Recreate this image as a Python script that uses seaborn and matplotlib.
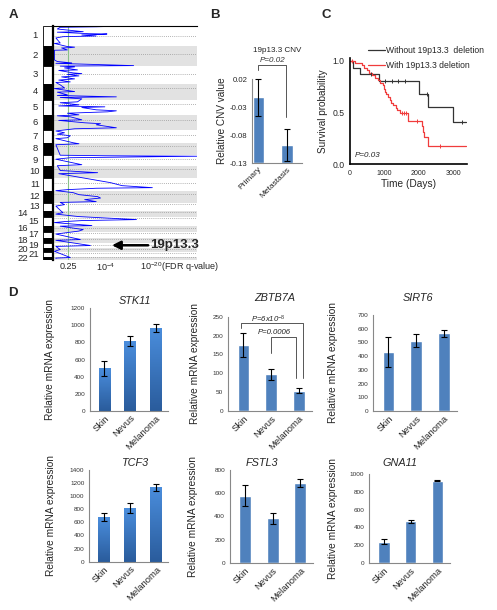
import numpy as np
import matplotlib
matplotlib.use("Agg")
import matplotlib.pyplot as plt
import seaborn as sns
from matplotlib.lines import Line2D
from matplotlib.colors import LinearSegmentedColormap

# --- style ---
sns.set_style("white")
plt.rcParams['font.family'] = ['Liberation Sans', 'DejaVu Sans']
plt.rcParams['mathtext.fontset'] = 'custom'
plt.rcParams['mathtext.rm'] = 'Liberation Sans'
plt.rcParams['mathtext.it'] = 'Liberation Sans:italic'

# --- data: panel A (GISTIC-like deletion profile) ---
chrom_names = [str(i) for i in range(1, 23)]
chrom_sizes = [20, 20, 18, 16, 15, 15, 13, 12, 11, 12, 13, 12, 8, 6, 9, 6, 6, 5, 5, 4, 5, 3]
chrom_cen = [0.5, 0.39, 0.46, 0.26, 0.27, 0.35, 0.38, 0.31, 0.35, 0.30, 0.40, 0.27,
             0.15, 0.16, 0.19, 0.40, 0.30, 0.22, 0.41, 0.45, 0.27, 0.28]
cnv_pos = [0, 0.3, 0.8, 1.3, 3, 5.7, 6.2, 7.7, 8, 8.5, 9, 10, 10.7, 12, 17, 17.5,
           20.6, 21.2, 21.7, 22, 24, 24.3, 34, 35.6, 37, 37.4, 39.7, 40.2, 41, 42,
           44, 44.5, 47, 47.7, 48.5, 50, 51, 53, 54.2, 56, 56.6, 59, 62, 62.7, 65.7,
           66.3, 69, 69.6, 71, 71.6, 73, 76, 76.9, 79, 80.1, 81, 81.7, 84, 85, 86,
           87.4, 89, 90, 91, 94, 94.6, 97, 97.9, 99, 100.3, 102, 103, 105.2, 107,
           108.4, 110, 112, 112.9, 117, 118, 119, 129.5, 130, 130.5, 131, 132, 133.5,
           139, 140, 144.8, 147, 148, 157, 160, 162, 162.6, 164, 165, 167, 169, 171,
           172.4, 174, 176, 176.8, 179, 180.5, 186, 187, 188.5, 191, 192.6, 194, 195,
           196, 197, 200, 200.6, 204, 205.5, 207, 208.5, 214, 214.8, 220, 220.9, 224,
           225.8, 232, 232.6, 233]
cnv_score = [0.02, 0.42, 0.30, 0.05, 0.03, 0.21, 0.03, 0.25, 0.375, 0.33, 0.20, 0.30,
             0.07, 0.02, 0.05, 0.01, 0.10, 0.15, 0.12, 0.06, 0.10, 0.01, 0.01, 0.03,
             0.13, 0.02, 0.56, 0.05, 0.15, 0.08, 0.17, 0.04, 0.14, 0.20, 0.10, 0.18,
             0.06, 0.15, 0.04, 0.12, 0.02, 0.05, 0.08, 0.01, 0.15, 0.03, 0.10, 0.03,
             0.44, 0.05, 0.20, 0.17, 0.05, 0.18, 0.04, 0.36, 0.20, 0.30, 0.44, 0.38,
             0.10, 0.18, 0.03, 0.12, 0.20, 0.04, 0.22, 0.33, 0.30, 0.36, 0.44, 0.15,
             0.02, 0.08, 0.03, 0.12, 0.10, 0.02, 0.14, 0.18, 0.02, 0.05, 0.36, 1.0,
             0.69, 0.12, 0.02, 0.20, 0.03, 0.05, 0.31, 0.04, 0.40, 0.48, 0.69, 0.30,
             0.10, 0.02, 0.14, 0.18, 0.31, 0.33, 0.22, 0.30, 0.05, 0.08, 0.02, 0.06,
             0.07, 0.02, 0.18, 0.40, 0.58, 0.20, 0.08, 0.01, 0.27, 0.05, 0.21, 0.18,
             0.10, 0.02, 0.19, 0.02, 0.26, 0.02, 0.05, 0.01, 0.12, 0.02, 0.02]
fdr_labels = ['0.25', '10$^{-4}$', '10$^{-20}$(FDR q-value)']

# --- data: panel B ---
cnv_groups = ['Primary', 'Metastasis']
cnv_mean = [-0.013, -0.098]
cnv_err = [0.033, 0.028]

# --- data: panel C (Kaplan-Meier) ---
wo_time = [0, 97, 290, 852, 2013, 2275, 3000, 3369]
wo_surv = [1.0, 0.932, 0.871, 0.803, 0.678, 0.549, 0.407, 0.407]
wo_censor = [600, 1016, 1210, 1404, 1597, 2226, 3243]
del_time = [0, 140, 340, 400, 480, 560, 640, 720, 800, 880, 960, 1000, 1030, 1060,
            1100, 1150, 1200, 1260, 1330, 1380, 1450, 1690, 2080, 2120, 2150, 2275, 3369]
del_surv = [1.0, 0.98, 0.955, 0.93, 0.91, 0.885, 0.86, 0.835, 0.81, 0.785, 0.76, 0.73,
            0.70, 0.675, 0.65, 0.62, 0.595, 0.57, 0.545, 0.52, 0.49, 0.42, 0.37, 0.31,
            0.26, 0.17, 0.17]
del_censor = [50, 1500, 1560, 1620, 1940, 2610]

# --- data: panel D (expression) ---
tissues = ['Skin', 'Nevus', 'Melanoma']
stk11_mean = [495, 820, 970]
stk11_err = [88, 60, 42]
zbtb7a_mean = [175, 97, 54]
zbtb7a_err = [32, 15, 7]
sirt6_mean = [428, 513, 568]
sirt6_err = [110, 48, 25]
tcf3_mean = [680, 818, 1135]
tcf3_err = [58, 70, 52]
fstl3_mean = [578, 385, 687]
fstl3_err = [88, 45, 36]
gna11_mean = [240, 467, 925]
gna11_err = [32, 12, 6]

W, H = 497, 610
fig = plt.figure(figsize=(W / 100, H / 100), dpi=100)


def add_ax(left, top, right, bottom):
    a = fig.add_axes([left / W, 1 - bottom / H, (right - left) / W, (bottom - top) / H])
    a.patch.set_alpha(0)
    return a


def fig_text(x, y, s, **kw):
    fig.text(x / W, 1 - y / H, s, **kw)


# ================= Panel A =================
starts = np.concatenate([[0], np.cumsum(chrom_sizes)[:-1]])
total = float(sum(chrom_sizes))
A_top, A_bot = 26, 259.5

ax_id = add_ax(43, A_top, 52, A_bot)
for i, (s0, sz) in enumerate(zip(starts, chrom_sizes)):
    ax_id.barh(s0 + sz / 2, 1, height=sz, left=0, color='black' if i % 2 else 'white',
               edgecolor='black', lw=0.6)
ax_id.set_ylim(total, 0)
ax_id.set_xlim(0, 1)
ax_id.axis('off')

label_x = [35] * 13 + [23, 34, 23, 34, 23, 34, 23, 34, 23]
for name, s0, sz, lx in zip(chrom_names, starts, chrom_sizes, label_x):
    yy = A_top + (s0 + sz / 2) / total * (A_bot - A_top)
    fig_text(lx, yy, name, ha='center', va='center', fontsize=6.8)

axA = add_ax(53, A_top, 197, A_bot)
for i, (s0, sz, cf) in enumerate(zip(starts, chrom_sizes, chrom_cen)):
    if i % 2:
        axA.axhspan(s0, s0 + sz, color='#e2e2e2', lw=0)
    axA.axhline(s0 + cf * sz, color='#9a9a9a', ls=(0, (1, 1.5)), lw=0.6)
axA.axvline(0.104, color='#88c088', lw=0.8)
axA.plot(cnv_score, cnv_pos, color='#0000ff', lw=0.6)
axA.set_ylim(total, 0)
axA.set_xlim(0, 1)
axA.set_xticks([])
axA.set_yticks([])
for sp in ['left', 'top']:
    axA.spines[sp].set_color('black')
axA.spines['left'].set_linewidth(1.6)
axA.spines['top'].set_linewidth(0.8)
axA.spines['bottom'].set_visible(False)
axA.spines['right'].set_visible(False)

arrow_y = starts[18] + chrom_sizes[18] * 0.55
axA.annotate('', xy=(0.39, arrow_y), xytext=(0.68, arrow_y),
             arrowprops=dict(arrowstyle='-|>,head_length=0.5,head_width=0.25',
                             color='black', lw=1.8))
axA.text(0.675, arrow_y, '19p13.3', fontsize=9.5, fontweight='bold', ha='left',
         va='center', clip_on=False)

for xpos, lab, ha in zip([0.108, 0.365, 0.604], fdr_labels, ['center', 'center', 'left']):
    axA.text(xpos, -0.032, lab, transform=axA.transAxes, ha=ha, va='center',
             fontsize=6.5, clip_on=False)

# ================= Panel B =================
axB = add_ax(252.3, 79, 301.7, 163)
base = -0.13
axB.bar(range(len(cnv_groups)), np.array(cnv_mean) - base, bottom=base, width=0.41,
        color='#4f81bd')
axB.errorbar(range(len(cnv_groups)), cnv_mean, yerr=cnv_err, fmt='none', ecolor='black',
             elinewidth=0.8, capsize=2.5, capthick=0.8, clip_on=False)
axB.set_xlim(-0.215, 1.51)
axB.set_ylim(-0.13, 0.02)
axB.set_yticks([0.02, -0.03, -0.08, -0.13])
axB.set_yticklabels(['0.02', '-0.03', '-0.08', '-0.13'], fontsize=5.6)
axB.set_xticks(range(len(cnv_groups)))
axB.set_xticklabels(cnv_groups, rotation=45, ha='right', rotation_mode='anchor', fontsize=6)
axB.set_xticks([0.5, 1.5], minor=True)
axB.tick_params(axis='x', which='major', length=0, pad=2)
axB.tick_params(axis='x', which='minor', length=2, color='#888888')
axB.tick_params(axis='y', length=2, color='#888888', pad=1.5)
axB.set_ylabel('Relative CNV value', fontsize=7.2, labelpad=2)
for sp in ['top', 'right']:
    axB.spines[sp].set_visible(False)
for sp in ['left', 'bottom']:
    axB.spines[sp].set_color('#888888')
    axB.spines[sp].set_linewidth(0.8)
axB.plot([0, 0, 0.95, 0.95], [0.036, 0.045, 0.045, -0.047], color='#555555', lw=0.7,
         clip_on=False)
axB.text(0.5, 0.053, 'P=0.02', fontstyle='italic', fontsize=5.8, ha='center', va='center',
         color='#333333')
fig_text(277, 50, '19p13.3 CNV', fontsize=5.8, ha='center', va='center', color='#222222')

# ================= Panel C =================
axC = add_ax(350, 57.6, 467, 164)


def surv_at(t, times, surv):
    idx = np.searchsorted(times, t, side='right') - 1
    return np.array(surv)[idx]


col_wo, col_del = '#333333', '#f03c3c'
axC.step(wo_time, wo_surv, where='post', color=col_wo, lw=0.9)
axC.step(del_time, del_surv, where='post', color=col_del, lw=0.9)
axC.plot(wo_censor, surv_at(wo_censor, wo_time, wo_surv), ls='none', marker='|',
         ms=3.5, mew=0.7, color=col_wo)
axC.plot(del_censor, surv_at(del_censor, del_time, del_surv), ls='none', marker='|',
         ms=3.5, mew=0.7, color=col_del)
axC.set_xlim(0, 3400)
axC.set_ylim(0, 1.03)
axC.set_xticks([0, 1000, 2000, 3000])
axC.set_xticklabels(['0', '1000', '2000', '3000'], fontsize=5)
axC.set_yticks([0, 0.5, 1.0])
axC.set_yticklabels(['0.0', '0.5', '1.0'], fontsize=6.2)
axC.tick_params(length=2.5, width=0.9, color='black', pad=1.5)
axC.set_xlabel('Time (Days)', fontsize=7.3, labelpad=2)
axC.set_ylabel('Survival probability', fontsize=7.2, labelpad=3)
for sp in ['top', 'right']:
    axC.spines[sp].set_visible(False)
for sp in ['left', 'bottom']:
    axC.spines[sp].set_color('black')
    axC.spines[sp].set_linewidth(1.2)
axC.text(130, 0.085, 'P=0.03', fontstyle='italic', fontsize=5.8, ha='left', va='center')
axC.legend(handles=[Line2D([], [], color=col_wo, lw=0.9), Line2D([], [], color=col_del, lw=0.9)],
           labels=['Without 19p13.3  deletion', 'With 19p13.3 deletion'],
           loc='upper left', bbox_to_anchor=(368 / W, 1 - 46 / H),
           bbox_transform=fig.transFigure, frameon=False, fontsize=6.2, handlelength=2.0,
           handletextpad=0.1, labelspacing=0.75, borderaxespad=0, borderpad=0)

# ================= Panel D =================
flat_blue = '#4f81bd'


def shade_bars(ax, top_color, bottom_color):
    cmap = LinearSegmentedColormap.from_list('bar_grad', [bottom_color, top_color])
    grad = np.linspace(0, 1, 64).reshape(-1, 1)
    for bar in list(ax.patches):
        x0, y0 = bar.get_x(), bar.get_y()
        w, h = bar.get_width(), bar.get_height()
        im = ax.imshow(grad, extent=[x0, x0 + w, y0, y0 + h], origin='lower', cmap=cmap,
                       aspect='auto', zorder=bar.get_zorder() + 0.1)
        im.set_clip_path(bar)


panels = [
    # gene, mean, err, (left, top, right, bottom), ymax, step, title xy, ylabel x, gradient
    ('STK11', stk11_mean, stk11_err, (90, 308.3, 168, 410.7), 1200, 200, (135, 301), 55, True),
    ('ZBTB7A', zbtb7a_mean, zbtb7a_err, (228.3, 316.7, 311.7, 411), 250, 50, (275, 298), 200, False),
    ('SIRT6', sirt6_mean, sirt6_err, (373.3, 315, 456.7, 411), 700, 100, (418, 298), 338, False),
    ('TCF3', tcf3_mean, tcf3_err, (89.3, 469.8, 168.3, 561.7), 1400, 200, (135, 463), 56, True),
    ('FSTL3', fstl3_mean, fstl3_err, (230, 469.7, 313, 563.3), 800, 200, (262, 463), 198, False),
    ('GNA11', gna11_mean, gna11_err, (369.3, 474, 450, 563), 1000, 200, (400, 463), 338, False),
]

axes_D = {}
for gene, mean, err, box, ymax, step, txy, ylx, grad in panels:
    ax = add_ax(*box)
    sns.barplot(x=tissues, y=mean, ax=ax, color=flat_blue, saturation=1, width=0.43,
                errorbar=None)
    if grad:
        shade_bars(ax, '#4a8ddc', '#2a5c9c')
    ax.errorbar(range(3), mean, yerr=err, fmt='none', ecolor='black', elinewidth=0.8,
                capsize=2, capthick=0.8, zorder=3, clip_on=False)
    ax.set_xlim(-0.55, 2.47)
    ax.set_ylim(0, ymax)
    ax.set_yticks(np.arange(0, ymax + 1, step))
    ax.tick_params(axis='y', labelsize=4.6, length=2, color='#888888', pad=1.5,
                   labelcolor='#333333')
    ax.set_xticks(range(3))
    ax.set_xticklabels(tissues, rotation=45, ha='right', rotation_mode='anchor', fontsize=6.8)
    ax.set_xticks([-0.5, 0.5, 1.5, 2.47], minor=True)
    ax.tick_params(axis='x', which='major', length=0, pad=2)
    ax.tick_params(axis='x', which='minor', length=2, color='#888888')
    ax.set_xlabel('')
    ax.set_ylabel('Relative mRNA expression', fontsize=7.3)
    x0 = box[0]
    ax.yaxis.set_label_coords((ylx - x0) / (box[2] - x0), 0.5)
    for sp in ['top', 'right']:
        ax.spines[sp].set_visible(False)
    for sp in ['left', 'bottom']:
        ax.spines[sp].set_color('#888888')
        ax.spines[sp].set_linewidth(0.8)
    fig_text(txy[0], txy[1], gene, fontstyle='italic', fontsize=7.8, ha='center', va='center')
    axes_D[gene] = ax

# significance brackets on ZBTB7A
axZ = axes_D['ZBTB7A']
axZ.plot([-0.1, -0.1, 2.15, 2.15], [220, 232, 232, 87], color='#555555', lw=0.7, clip_on=False)
axZ.plot([1.0, 1.0, 1.9, 1.9], [154, 195, 195, 87], color='#555555', lw=0.7, clip_on=False)
axZ.text(0.89, 244, 'P=6x10$^{-8}$', fontstyle='italic', fontsize=5.6, ha='center',
         va='center', clip_on=False)
axZ.text(1.12, 207, 'P=0.0006', fontstyle='italic', fontsize=5.6, ha='center', va='center')

# panel letters
for lx, ly, letter in [(13, 15, 'A'), (215, 15, 'B'), (326, 15, 'C'), (13, 293, 'D')]:
    fig_text(lx, ly, letter, fontsize=9.5, fontweight='bold', ha='center', va='center')

fig.savefig('out.png', dpi=100)
